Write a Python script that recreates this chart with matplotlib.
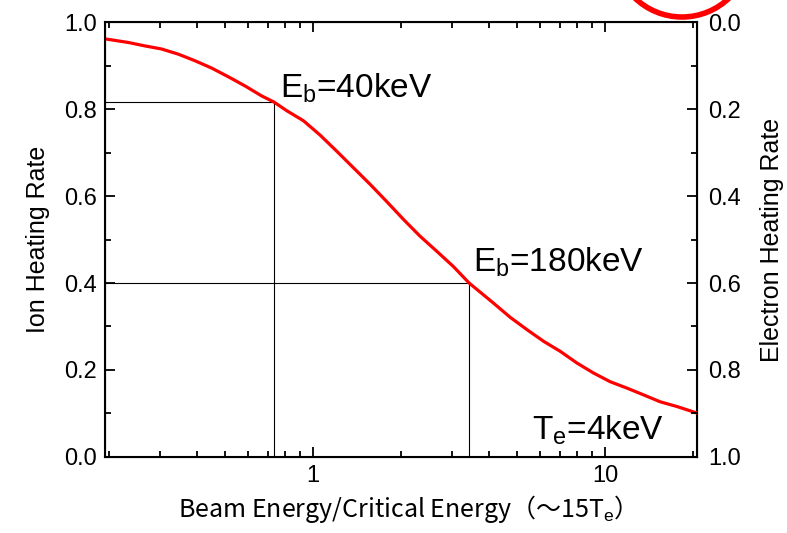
import matplotlib
matplotlib.use("Agg")
import matplotlib.pyplot as plt
from matplotlib.patches import Ellipse
from matplotlib.ticker import FixedLocator, NullFormatter

plt.rcParams['font.family'] = ['Liberation Sans', 'DejaVu Sans']
plt.rcParams['mathtext.fontset'] = 'custom'
plt.rcParams['mathtext.rm'] = 'Liberation Sans'
plt.rcParams['mathtext.it'] = 'Liberation Sans'

# ion heating fraction vs. beam energy / critical energy
curve_x = [0.195, 0.233, 0.266, 0.303, 0.346, 0.394, 0.450, 0.513, 0.585, 0.667,
           0.735, 0.813, 0.927, 1.057, 1.205, 1.374, 1.567, 1.788, 2.04, 2.32,
           2.65, 3.02, 3.42, 4.14, 4.73, 5.39, 6.15, 7.01, 8.0, 9.12,
           10.4, 11.9, 13.5, 15.4, 17.6, 20.6]
curve_y = [0.961, 0.953, 0.945, 0.938, 0.926, 0.911, 0.894, 0.874, 0.853, 0.830,
           0.816, 0.796, 0.773, 0.740, 0.703, 0.665, 0.627, 0.587, 0.546, 0.508,
           0.473, 0.438, 0.400, 0.354, 0.321, 0.293, 0.266, 0.243, 0.216, 0.193,
           0.173, 0.158, 0.143, 0.127, 0.116, 0.101]

# beam energies marked on the curve
beam_x = [0.735, 3.42]
beam_y = [0.816, 0.400]
beam_labels = ['E$_\\mathrm{b}$=40keV', 'E$_\\mathrm{b}$=180keV']
label_xy = [(0.771, 0.827), (3.53, 0.426)]

fig = plt.figure(figsize=(7.87, 5.33), dpi=100)
ax = fig.add_axes([0.1334, 0.1426, 0.7522, 0.8161])

ax.plot(curve_x, curve_y, color='#ff0000', lw=2.3, zorder=3,
        solid_joinstyle='round')
for bx, by, lab, (tx, ty) in zip(beam_x, beam_y, beam_labels, label_xy):
    ax.plot([0.194, bx], [by, by], color='black', lw=0.8)
    ax.plot([bx, bx], [0, by], color='black', lw=0.8)
    ax.text(tx, ty, lab, fontsize=24, va='baseline', ha='left')
ax.text(5.62, 0.039, 'T$_\\mathrm{e}$=4keV', fontsize=24, va='baseline', ha='left')

ax.set_xscale('log')
ax.set_xlim(0.194, 20.6)
ax.set_ylim(0, 1)
ax.xaxis.set_major_locator(FixedLocator([1, 10]))
ax.set_xticklabels(['1', '10'])
ax.xaxis.set_minor_locator(FixedLocator([0.2, 0.3, 0.4, 0.5, 0.6, 0.7, 0.8, 0.9,
                                         2, 3, 4, 5, 6, 7, 8, 9, 20]))
ax.xaxis.set_minor_formatter(NullFormatter())
ax.set_yticks([0, 0.2, 0.4, 0.6, 0.8, 1.0])
ax.set_yticklabels(['0.0', '0.2', '0.4', '0.6', '0.8', '1.0'])
ax.yaxis.set_minor_locator(FixedLocator([0.1, 0.3, 0.5, 0.7, 0.9]))
ax.tick_params(which='both', direction='in', top=True, labelsize=17, width=1.3,
               pad=6)
ax.tick_params(which='major', length=7)
ax.tick_params(which='minor', length=4)
for s in ax.spines.values():
    s.set_linewidth(1.5)

ax.set_ylabel('Ion Heating Rate', fontsize=18, labelpad=10)
ax.set_xlabel('Beam Energy/Critical Energy（～15T$_\\mathrm{e}$）', fontsize=18,
              family=['Noto Sans CJK JP', 'DejaVu Sans'], labelpad=4)

ax2 = ax.twinx()
ax2.set_ylim(1, 0)
ax2.set_yticks([0, 0.2, 0.4, 0.6, 0.8, 1.0])
ax2.set_yticklabels(['0.0', '0.2', '0.4', '0.6', '0.8', '1.0'])
ax2.yaxis.set_minor_locator(FixedLocator([0.1, 0.3, 0.5, 0.7, 0.9]))
ax2.tick_params(which='both', direction='in', labelsize=17, width=1.3, pad=8)
ax2.tick_params(which='major', length=7)
ax2.tick_params(which='minor', length=4)
ax2.set_ylabel('Electron Heating Rate', fontsize=18, labelpad=14)

# red ring drawn at the upper right edge
fig.patches.append(Ellipse((682 / 787, 1 + 51 / 533), 136 / 787, 136 / 533,
                           transform=fig.transFigure, fill=False,
                           edgecolor='#ff0000', lw=4))

fig.savefig('out.png', dpi=100)
